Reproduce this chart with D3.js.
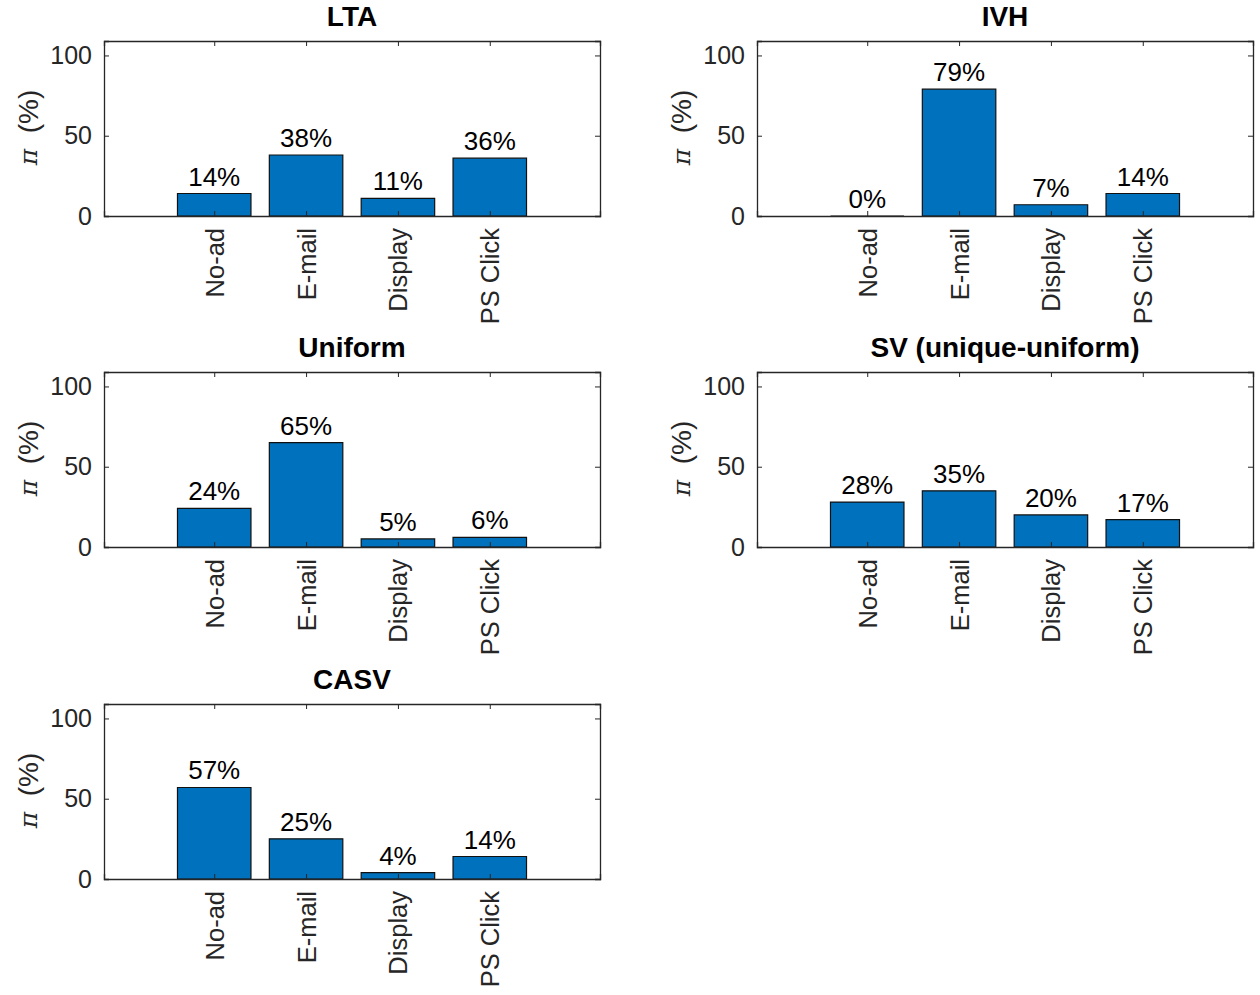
<!DOCTYPE html>
<html>
<head>
<meta charset="utf-8">
<script src="https://cdn.jsdelivr.net/npm/d3@7"></script>
<style>
  html, body { margin: 0; padding: 0; background: #fff; }
  svg { display: block; }
</style>
</head>
<body>
<svg id="fig" width="1260" height="995"></svg>
<script>
// Channel shares per attribution model
const categories = ["No-ad", "E-mail", "Display", "PS Click"];
const panelTitles = ["LTA", "IVH", "Uniform", "SV (unique-uniform)", "CASV"];
const ltaValues = [14, 38, 11, 36];
const ivhValues = [0, 79, 7, 14];
const uniformValues = [24, 65, 5, 6];
const svValues = [28, 35, 20, 17];
const casvValues = [57, 25, 4, 14];
const yTickValues = [0, 50, 100];

const seriesList = [ltaValues, ivhValues, uniformValues, svValues, casvValues];

const svg = d3.select("#fig");
const axisColor = "#262626";
const barColor = "#0072BD";
const tickFont = "'Liberation Sans', Arial, Helvetica, sans-serif";

// grid placement of the five axes (2 columns x 3 rows)
const colLeft = [104, 757];
const rowTop = [41, 372, 704];
const axW = 496, axH = 175;
const tickLen = 5;

seriesList.forEach((vals, k) => {
  const col = k % 2, row = Math.floor(k / 2);
  const x0 = colLeft[col], y0 = rowTop[row];
  const g = svg.append("g").attr("transform", `translate(${x0},${y0})`);

  const x = d3.scaleLinear().domain([-0.2, 5.2]).range([0, axW]);
  const y = d3.scaleLinear().domain([0, 109]).range([axH, 0]);
  const barW = x(0.8) - x(0);
  const positions = categories.map((c, i) => i + 1);

  // bars (drawn as paths so zero-height bars still show their edge)
  g.selectAll("path.bar").data(vals).enter().append("path")
    .attr("class", "bar")
    .attr("d", (d, i) => {
      const cx = x(positions[i]);
      const l = cx - barW / 2, r = cx + barW / 2;
      return `M${l},${y(0)}L${l},${y(d)}L${r},${y(d)}L${r},${y(0)}Z`;
    })
    .attr("fill", barColor)
    .attr("stroke", "#111")
    .attr("stroke-width", 1.2);

  // value labels
  g.selectAll("text.val").data(vals).enter().append("text")
    .attr("class", "val")
    .attr("x", (d, i) => x(positions[i]))
    .attr("y", d => y(d) - 8)
    .attr("text-anchor", "middle")
    .attr("font-family", tickFont)
    .attr("font-size", 26)
    .attr("fill", "#000")
    .text(d => d + "%");

  // axes with inward ticks on all four sides
  const yLeft = d3.axisLeft(y).tickValues(yTickValues).tickSize(-tickLen).tickPadding(12);
  const yRight = d3.axisRight(y).tickValues(yTickValues).tickSize(-tickLen).tickFormat("");
  const xBottom = d3.axisBottom(x).tickValues(positions).tickSize(-tickLen)
    .tickFormat((d, i) => categories[i]);
  const xTop = d3.axisTop(x).tickValues(positions).tickSize(-tickLen).tickFormat("");

  const gl = g.append("g").call(yLeft);
  g.append("g").attr("transform", `translate(${axW},0)`).call(yRight);
  const gb = g.append("g").attr("transform", `translate(0,${axH})`).call(xBottom);
  g.append("g").call(xTop);

  g.selectAll(".domain").attr("stroke", axisColor).attr("stroke-width", 1.3);
  g.selectAll(".tick line").attr("stroke", axisColor).attr("stroke-width", 1);

  gl.selectAll(".tick text")
    .attr("font-family", tickFont).attr("font-size", 25).attr("fill", axisColor);

  gb.selectAll(".tick text")
    .attr("font-family", tickFont).attr("font-size", 25.5).attr("fill", axisColor)
    .attr("text-anchor", "end")
    .attr("dominant-baseline", "central")
    .attr("dy", null)
    .attr("transform", "translate(0,12) rotate(-90)")
    .attr("x", 0).attr("y", 0);

  // y label: italic pi followed by (%)
  const yl = g.append("text")
    .attr("transform", `translate(${-76},${axH / 2 - 1}) rotate(-90)`)
    .attr("text-anchor", "middle")
    .attr("dominant-baseline", "central")
    .attr("font-family", tickFont)
    .attr("font-size", 28)
    .attr("fill", axisColor);
  yl.append("tspan")
    .attr("font-family", "'DejaVu Serif', 'Liberation Serif', serif")
    .attr("font-style", "italic")
    .attr("font-size", 25)
    .text("π");
  yl.append("tspan").attr("xml:space", "preserve").text("\u00a0\u00a0(%)");

  // title
  g.append("text")
    .attr("x", axW / 2)
    .attr("y", -15)
    .attr("text-anchor", "middle")
    .attr("font-family", tickFont)
    .attr("font-weight", "bold")
    .attr("font-size", 28)
    .attr("fill", "#000")
    .text(panelTitles[k]);
});
</script>
</body>
</html>
